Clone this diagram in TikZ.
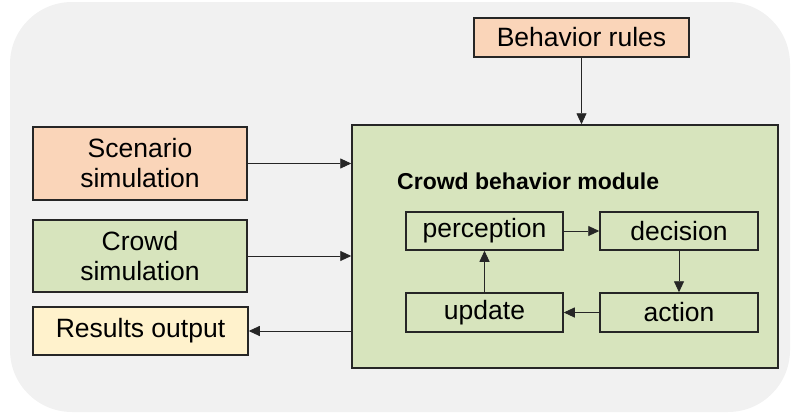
\documentclass[tikz,border=0pt]{standalone}
\usepackage{fontspec}
\setmainfont{Liberation Sans}
\usetikzlibrary{arrows.meta,calc}
\definecolor{bgc}{HTML}{F1F1F1}
\definecolor{peach}{HTML}{FAD5B9}
\definecolor{sage}{HTML}{D7E4BD}
\definecolor{cream}{HTML}{FFF2CC}
\begin{document}
\begin{tikzpicture}[x=1pt,y=-1pt,
  box/.style={draw=black!85,line width=1.5pt,inner sep=0pt,align=center,
    font=\fontsize{26.5}{30}\selectfont},
  conn/.style={line width=0.9pt,draw=black!85,-{Triangle[length=11pt,width=10pt]}}]
\useasboundingbox (0,0) rectangle (793,415);
\fill[bgc,rounded corners=62pt] (10,2) rectangle (790,412);
\node[box,fill=sage,minimum width=426pt,minimum height=243pt] (module) at (565,246.5) {};
\node[anchor=base west,inner sep=0pt,font=\fontsize{23}{27}\selectfont\bfseries] (title) at (397,189) {Crowd behavior module};
\node[box,fill=peach,minimum width=214pt,minimum height=73pt] (scen) at (140,163.5) {Scenario\\simulation};
\node[box,fill=sage,minimum width=214pt,minimum height=72pt] (crowd) at (140,256) {Crowd\\simulation};
\node[box,fill=cream,minimum width=215pt,minimum height=48pt] (res) at (140.5,331) {Results output};
\node[box,fill=peach,minimum width=215pt,minimum height=39pt] (rules) at (581.5,37.5) {Behavior rules};
\node[box,fill=sage,minimum width=157pt,minimum height=38pt] (perc) at (484.5,231) {perception};
\node[box,fill=sage,minimum width=158pt,minimum height=38pt] (dec) at (679,231) {decision};
\node[box,fill=sage,minimum width=157pt,minimum height=39pt] (upd) at (484.5,312.5) {update};
\node[box,fill=sage,minimum width=158pt,minimum height=39pt] (act) at (679,312.5) {action};
\draw[conn] (scen.east) -- (scen.east -| module.west);
\draw[conn] (crowd.east) -- (crowd.east -| module.west);
\draw[conn] (module.west |- res.east) -- (res.east);
\draw[conn] (rules.south) -- (rules.south |- module.north);
\draw[conn] (perc.east) -- (dec.west);
\draw[conn] (dec.south) -- (act.north);
\draw[conn] (act.west) -- (upd.east);
\draw[conn] (upd.north) -- (perc.south);
\end{tikzpicture}
\end{document}
